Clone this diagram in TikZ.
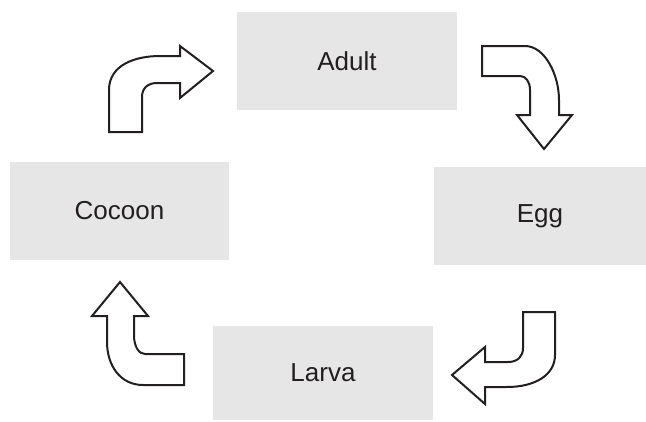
\documentclass[tikz,border=0pt]{standalone}
\usepackage{fontspec}
\setmainfont{Liberation Sans}
\definecolor{boxgray}{HTML}{E6E6E7}
\definecolor{ink}{HTML}{231F20}
\begin{document}
\begin{tikzpicture}[x=1pt,y=-1pt,
  stage/.style={fill=boxgray, draw=none, inner sep=0pt, text=ink,
    font=\fontsize{26}{30}\selectfont},
  blockarrow/.style={draw=ink, fill=white, line width=2pt, line join=miter}]
\useasboundingbox (0,0) rectangle (646,421);
\node[stage, minimum width=220pt, minimum height=98pt] (adult) at (347,61) {Adult};
\node[stage, minimum width=212pt, minimum height=98pt] (egg) at (540,216) {Egg};
\node[stage, minimum width=219pt, minimum height=98pt] (cocoon) at (119.5,211) {Cocoon};
\node[stage, minimum width=220pt, minimum height=94pt] (larva) at (323,373) {Larva};
% cocoon -> adult
\draw[blockarrow] (109,132) -- (109,90) .. controls (109,65) and (135,56) .. (160,56) -- (180,56) -- (180,46) -- (213,71) -- (180,98) -- (180,83) -- (157,83) .. controls (148,83) and (142,88) .. (142,97) -- (142,132) -- cycle;
% adult -> egg
\draw[blockarrow] (482,46) -- (525,46) .. controls (545,46) and (559,75) .. (559,100) -- (559,115) -- (572,115) -- (544,149) -- (517,115) -- (530,115) -- (530,90) .. controls (530,82) and (526,76) .. (520,76) -- (482,76) -- cycle;
% egg -> larva
\draw[blockarrow] (523,312) -- (555,312) -- (555,355) .. controls (555,375) and (535,387) .. (507,387) -- (485,387) -- (485,404) -- (452,375) -- (485,347) -- (485,362) -- (508,362) .. controls (518,362) and (523,356) .. (523,348) -- cycle;
% larva -> cocoon
\draw[blockarrow] (120,282) -- (148,316) -- (134,316) -- (134,335) .. controls (134,347) and (139,354) .. (145,354) -- (184,354) -- (184,385) -- (143,385) .. controls (120,385) and (107,365) .. (107,342) -- (107,316) -- (92,316) -- cycle;
\end{tikzpicture}
\end{document}
